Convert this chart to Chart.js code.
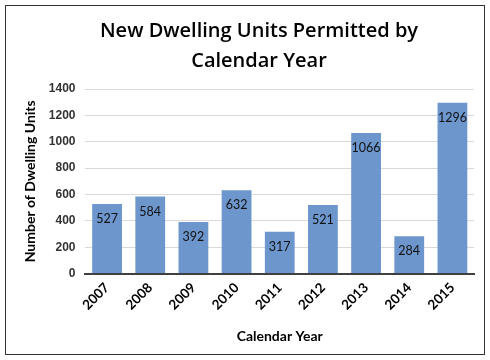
<!DOCTYPE html>
<html>
<head>
  <title>New Dwelling Units Permitted by Calendar Year</title>
  <script src="https://cdn.jsdelivr.net/npm/chart.js"></script>
  <style>
    body { margin: 0; background: #fff; }
    #box { position: absolute; left: 5px; top: 5px; width: 478px; height: 348px; border: 1px solid #333; }
    #heading { position: absolute; left: 13px; top: 9px; width: 480px; margin: 0; text-align: center;
      font: 600 20px/30px "Open Sans", sans-serif; color: #000; }
    canvas { position: absolute; left: 0; top: 0; }
  </style>
</head>
<body>
  <div id="box">
    <canvas id="permitChart" width="478" height="348"></canvas>
    <h1 id="heading">New Dwelling Units Permitted by<br>Calendar Year</h1>
  </div>

  <script>
    const years = ['2007', '2008', '2009', '2010', '2011', '2012', '2013', '2014', '2015'];
    const units = [527, 584, 392, 632, 317, 521, 1066, 284, 1296];
    const yTicks = [0, 200, 400, 600, 800, 1000, 1200, 1400];

    // draws the value just under the top of each bar
    const barValues = {
      id: 'barValues',
      afterDatasetsDraw(chart) {
        const ctx = chart.ctx;
        const meta = chart.getDatasetMeta(0);
        ctx.save();
        ctx.font = '12.5px Lato, sans-serif';
        ctx.fillStyle = '#111';
        ctx.textAlign = 'center';
        ctx.textBaseline = 'middle';
        meta.data.forEach((bar, i) => {
          ctx.fillText(units[i], bar.x, bar.y + 15);
        });
        ctx.restore();
      }
    };

    new Chart(document.getElementById('permitChart'), {
      type: 'bar',
      data: {
        labels: years,
        datasets: [{
          data: units,
          backgroundColor: '#6c96cc',
          categoryPercentage: 1,
          barPercentage: 0.69
        }]
      },
      options: {
        responsive: false,
        animation: false,
        layout: { padding: { left: 16, right: 10, top: 83, bottom: 5 } },
        plugins: {
          legend: { display: false },
          tooltip: { enabled: false }
        },
        scales: {
          x: {
            grid: { display: false, drawTicks: false },
            border: { color: '#404040', width: 2 },
            ticks: {
              color: '#000',
              font: { family: 'Lato, sans-serif', size: 13.5, weight: 'bold' },
              maxRotation: 45,
              minRotation: 45,
              padding: 6
            },
            title: {
              display: true,
              text: 'Calendar Year',
              color: '#000',
              font: { family: 'Lato, sans-serif', size: 14, weight: 'bold' },
              padding: { top: 9 }
            }
          },
          y: {
            min: 0,
            max: 1400,
            afterBuildTicks: axis => { axis.ticks = yTicks.map(v => ({ value: v })); },
            ticks: {
              callback: v => String(v),
              color: '#333',
              font: { family: '"Liberation Sans", Arial, sans-serif', size: 12, weight: 'bold' },
              padding: 10
            },
            grid: { color: '#d9d9d9', drawTicks: false },
            border: { display: false },
            title: {
              display: true,
              text: 'Number of Dwelling Units',
              color: '#000',
              font: { family: 'Lato, sans-serif', size: 14, weight: 'bold' },
              padding: { top: 0, bottom: 0 }
            }
          }
        }
      },
      plugins: [barValues]
    });
  </script>
</body>
</html>
